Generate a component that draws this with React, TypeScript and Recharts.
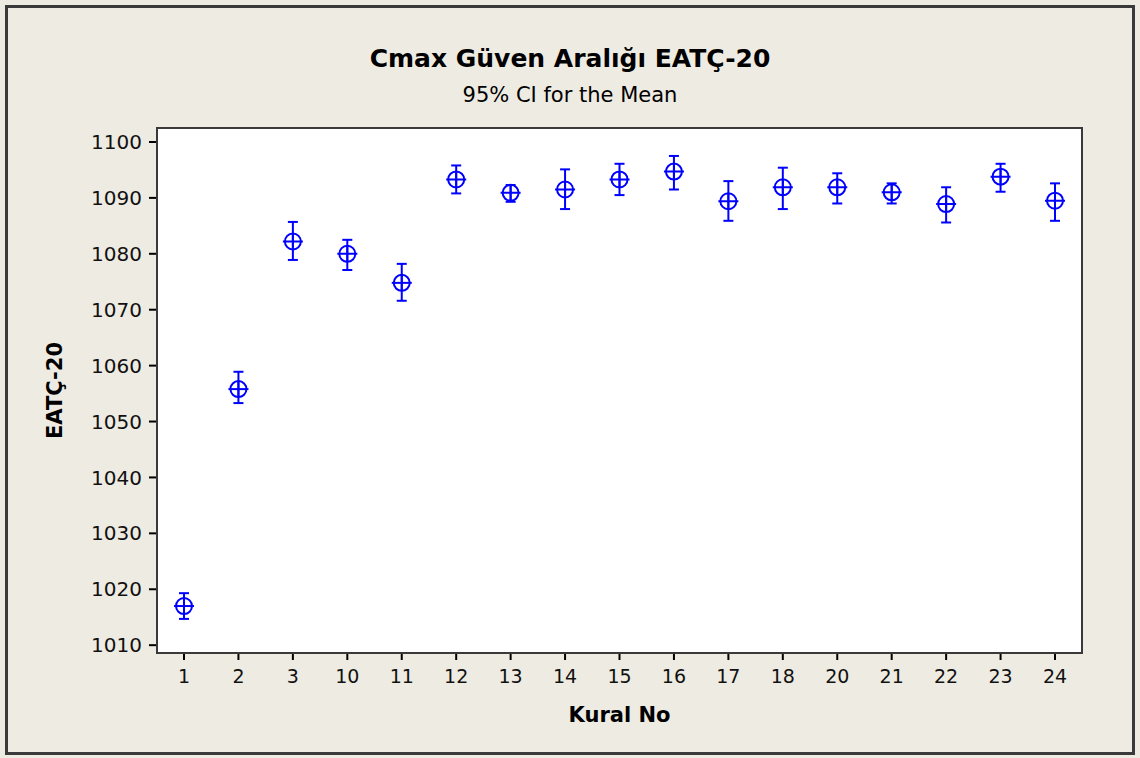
import React from 'react';
import { ComposedChart, Scatter, ErrorBar, XAxis, YAxis, CartesianGrid, Label } from 'recharts';

// Kural No categories and the 95% CI
const kuralNo = ['1', '2', '3', '10', '11', '12', '13', '14', '15', '16', '17', '18', '20', '21', '22', '23', '24'];
const means = [1017.0, 1055.8, 1082.2, 1080.0, 1074.8, 1093.3, 1090.9, 1091.5, 1093.3, 1094.7, 1089.4, 1091.9, 1091.9, 1091.0, 1088.9, 1093.8, 1089.5];
const ciLower = [1014.7, 1053.3, 1078.9, 1077.1, 1071.6, 1090.8, 1089.3, 1088.0, 1090.5, 1091.5, 1085.9, 1088.0, 1089.0, 1089.0, 1085.6, 1091.1, 1085.9];
const ciUpper = [1019.3, 1058.9, 1085.7, 1082.5, 1078.2, 1095.8, 1092.3, 1095.1, 1096.1, 1097.5, 1093.0, 1095.4, 1094.4, 1092.6, 1091.9, 1096.1, 1092.6];
const yTicks = [1010, 1020, 1030, 1040, 1050, 1060, 1070, 1080, 1090, 1100];

const data = kuralNo.map((k, i) => ({
    kural: k,
    mean: means[i],
    err: [means[i] - ciLower[i], ciUpper[i] - means[i]],
}));

const BLUE = '#0000ff';
const FONT = 'Tahoma, "DejaVu Sans", sans-serif';

const CrossCircle = (props: any) => {
    const { cx, cy } = props;
    if (cx == null || cy == null) return null;
    return (
        <g>
            <circle cx={cx} cy={cy} r={8} fill="none" stroke={BLUE} strokeWidth={2} />
            <line x1={cx - 10} y1={cy} x2={cx + 10} y2={cy} stroke={BLUE} strokeWidth={2} />
            <line x1={cx} y1={cy - 8} x2={cx} y2={cy + 8} stroke={BLUE} strokeWidth={2} />
        </g>
    );
};

export default function App() {
    return (
        <div style={{ position: 'relative', width: 1140, height: 758, background: '#eeebe2', fontFamily: FONT }}>
            <style>{'body{margin:0}'}</style>
            <div style={{
                position: 'absolute', left: 5, top: 5, width: 1124, height: 744,
                border: '3px solid #3a3a3a',
            }} />
            <div style={{ position: 'absolute', left: 0, top: 44, width: 1140, textAlign: 'center', fontSize: 25, fontWeight: 'bold', color: '#000' }}>
                Cmax Güven Aralığı EATÇ-20
            </div>
            <div style={{ position: 'absolute', left: 0, top: 83, width: 1140, textAlign: 'center', fontSize: 21, color: '#000' }}>
                95% CI for the Mean
            </div>
            <div style={{ position: 'absolute', left: 0, top: 0 }}>
                <ComposedChart width={1140} height={758} data={data} margin={{ top: 128, right: 58, bottom: 0, left: 0 }}>
                    <CartesianGrid fill="#ffffff" horizontal={false} vertical={false} />
                    <XAxis
                        dataKey="kural"
                        type="category"
                        height={105}
                        padding={{ left: 27, right: 27 }}
                        tick={{ fontSize: 19, fill: '#111', fontFamily: FONT }}
                        tickSize={7}
                        tickMargin={10}
                        axisLine={{ stroke: '#3a3a3a', strokeWidth: 2 }}
                        tickLine={{ stroke: '#000', strokeWidth: 2 }}
                    >
                        <Label value="Kural No" position="insideBottom" offset={36}
                            style={{ fontSize: 21, fontWeight: 'bold', fill: '#000', fontFamily: FONT }} />
                    </XAxis>
                    <YAxis
                        domain={[1008.6, 1102.5]}
                        ticks={yTicks}
                        width={157}
                        tick={{ fontSize: 20, fill: '#111', fontFamily: FONT }}
                        tickSize={8}
                        tickMargin={7}
                        axisLine={{ stroke: '#3a3a3a', strokeWidth: 2 }}
                        tickLine={{ stroke: '#000', strokeWidth: 2 }}
                        allowDataOverflow
                    >
                        <Label value="EATÇ-20" angle={-90} position="insideLeft" offset={55}
                            style={{ fontSize: 21, fontWeight: 'bold', fill: '#000', fontFamily: FONT, textAnchor: 'middle' }} />
                    </YAxis>
                    <Scatter dataKey="mean" shape={<CrossCircle />} isAnimationActive={false}>
                        <ErrorBar dataKey="err" direction="y" width={5} stroke={BLUE} strokeWidth={2} isAnimationActive={false} />
                    </Scatter>
                </ComposedChart>
            </div>
            {/* plot area frame */}
            <div style={{
                position: 'absolute', left: 156, top: 127, width: 927, height: 527,
                boxSizing: 'border-box', border: '2px solid #3a3a3a', pointerEvents: 'none',
            }} />
        </div>
    );
}
